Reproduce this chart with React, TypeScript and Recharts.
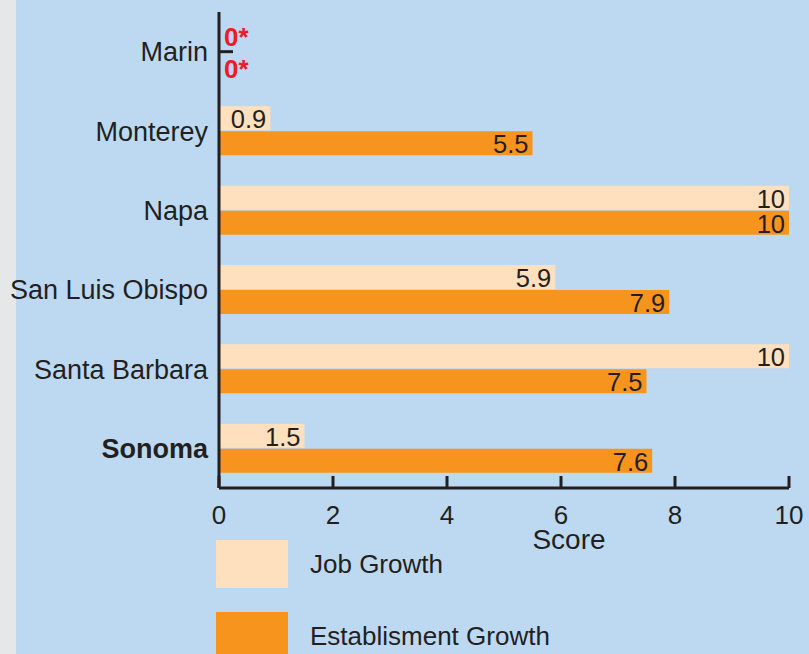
import React from 'react';
import { BarChart, Bar, XAxis, YAxis, Legend, LabelList } from 'recharts';

const categories = ['Marin', 'Monterey', 'Napa', 'San Luis Obispo', 'Santa Barbara', 'Sonoma'];
const jobGrowth = [0, 0.9, 10, 5.9, 10, 1.5];
const establishmentGrowth = [0, 5.5, 10, 7.9, 7.5, 7.6];
const xTicks = [0, 2, 4, 6, 8, 10];
const boldCategories = ['Sonoma'];

const seriesList = [
  { key: 'job', name: 'Job Growth', color: '#FEE0BF', values: jobGrowth, zeroDy: -2.5 },
  { key: 'est', name: 'Establisment Growth', color: '#F7941D', values: establishmentGrowth, zeroDy: 4.5 },
];

const data = categories.map((c, i) => ({ name: c, job: jobGrowth[i], est: establishmentGrowth[i] }));

const FONT = '"Liberation Sans", Arial, Helvetica, sans-serif';
const INK = '#231F20';

const makeLabel = (zeroDy: number) => (props: any) => {
  const { x, y, width, height, value } = props;
  if (Number(value) === 0) {
    return (
      <text x={x + 5} y={y + height / 2 + zeroDy + 9.3} fontSize={26} fontWeight="bold" fill="#ED1C24" fontFamily={FONT}>
        0*
      </text>
    );
  }
  return (
    <text x={x + width - 4} y={y + height - 2} textAnchor="end" fontSize={25.5} fill={INK} fontFamily={FONT}>
      {value}
    </text>
  );
};

const YTick = (props: any) => {
  const { x, y, payload, index } = props;
  const bold = boldCategories.includes(payload.value);
  return (
    <g>
      {index === 0 && <line x1={x} y1={y} x2={x + 14} y2={y} stroke={INK} strokeWidth={3} />}
      <text x={x - 11} y={y} dy="0.36em" textAnchor="end" fontSize={27} fontWeight={bold ? 'bold' : 'normal'} fill={INK} fontFamily={FONT}>
        {payload.value}
      </text>
    </g>
  );
};

const XTick = (props: any) => {
  const { x, y, payload } = props;
  return (
    <g>
      <line x1={x} y1={y} x2={x} y2={y - 12} stroke={INK} strokeWidth={3} />
      <text x={x} y={y + 36} textAnchor="middle" fontSize={26} fill={INK} fontFamily={FONT}>
        {payload.value}
      </text>
    </g>
  );
};

const ScoreLabel = (props: any) => {
  const { viewBox } = props;
  return (
    <text x={viewBox.x + viewBox.width * 0.614} y={viewBox.y + 61} textAnchor="middle" fontSize={28} fill={INK} fontFamily={FONT}>
      Score
    </text>
  );
};

const LegendContent = () => (
  <div style={{ fontFamily: FONT }}>
    {seriesList.map((s, i) => (
      <div key={s.key} style={{ display: 'flex', alignItems: 'center', height: 48, marginBottom: i === 0 ? 24 : 0 }}>
        <div style={{ width: 72, height: 48, background: s.color }} />
        <span style={{ marginLeft: 22, fontSize: 26, color: INK, whiteSpace: 'nowrap' }}>{s.name}</span>
      </div>
    ))}
  </div>
);

export default function App() {
  return (
    <div style={{ position: 'absolute', left: 0, top: 0, width: 809, height: 654, background: '#E6E7E8', overflow: 'hidden' }}>
      <div style={{ position: 'absolute', left: 16, top: 0, width: 793, height: 654, background: '#BDD9F1' }} />
      <div style={{ position: 'absolute', left: 0, top: 0, width: 809, height: 654 }}>
        <BarChart
          width={809}
          height={654}
          data={data}
          layout="vertical"
          margin={{ top: 12, right: 20, left: 0, bottom: 106 }}
          barSize={24}
          barGap={1}
        >
          <XAxis
            type="number"
            domain={[0, 10]}
            ticks={xTicks}
            axisLine={{ stroke: INK, strokeWidth: 3 }}
            tickLine={false}
            tickSize={0}
            tickMargin={0}
            tick={<XTick />}
            height={60}
            label={<ScoreLabel />}
          />
          <YAxis
            type="category"
            dataKey="name"
            width={219}
            axisLine={{ stroke: INK, strokeWidth: 3 }}
            tickLine={false}
            tickSize={0}
            tickMargin={0}
            tick={<YTick />}
            interval={0}
          />
          <Legend
            layout="vertical"
            align="center"
            verticalAlign="middle"
            content={<LegendContent />}
            wrapperStyle={{ left: 216, top: 540, width: 400, height: 120 }}
          />
          {seriesList.map((s) => (
            <Bar key={s.key} dataKey={s.key} name={s.name} fill={s.color} minPointSize={1} isAnimationActive={false}>
              <LabelList dataKey={s.key} content={makeLabel(s.zeroDy)} />
            </Bar>
          ))}
        </BarChart>
      </div>
    </div>
  );
}
